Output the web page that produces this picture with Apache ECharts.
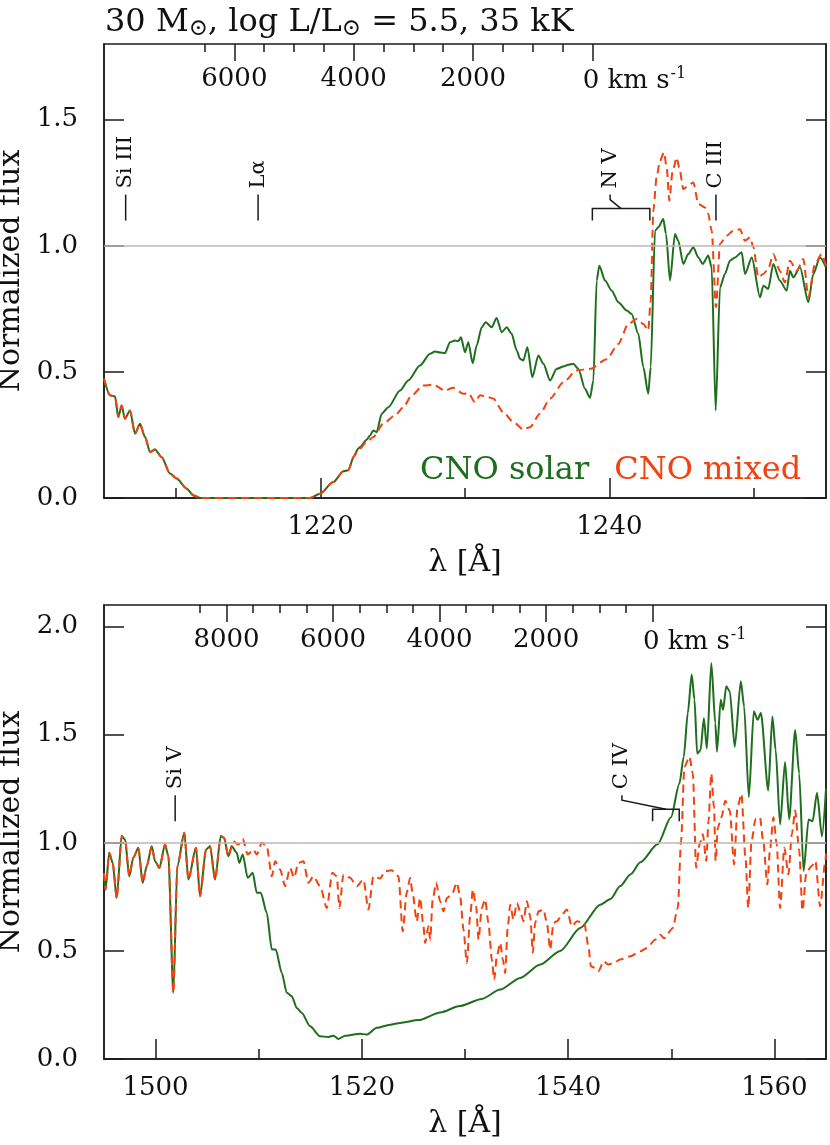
<!DOCTYPE html>
<html><head><meta charset="utf-8">
<script src="https://cdn.jsdelivr.net/npm/echarts@6/dist/echarts.min.js"></script>
<style>html,body{margin:0;padding:0;background:#fff}#c{width:830px;height:1145px}</style>
</head><body><div id="c"></div>
<script>
// ---------------- DATA ----------------
const topRange = [1205, 1255];
const botRange = [1495, 1565];
const topYMax = 1.8, botYMax = 2.1;
const topRest = 1238.82;   // N V rest wavelength (0 km/s)
const botRest = 1548.19;   // C IV rest wavelength (0 km/s)

const topWaveMajor = [1220, 1240];
const topWaveMinor = [1210, 1230, 1250];
const botWaveMajor = [1500, 1520, 1540, 1560];
const botWaveMinor = [1510, 1530, 1550];
const topFluxTicks = [0, 0.5, 1.0, 1.5];
const botFluxTicks = [0, 0.5, 1.0, 1.5, 2.0];
const topVelMajor = [0, 2000, 4000, 6000];
const topVelMinor = [0, 500, 1000, 1500, 2000, 2500, 3000, 3500, 4000, 4500, 5000, 5500, 6000, 6500];
const botVelMajor = [0, 2000, 4000, 6000, 8000];
const botVelMinor = [0, 500, 1000, 1500, 2000, 2500, 3000, 3500, 4000, 4500, 5000, 5500, 6000, 6500, 7000, 7500, 8000, 8500];

const seriesNames = ['CNO solar', 'CNO mixed'];

// top panel: common part (both models identical)
const topCommon = [[1205.0,0.473],[1205.42,0.407],[1205.76,0.403],[1205.99,0.321],[1206.22,0.367],[1206.45,0.314],[1206.8,0.347],[1207.15,0.255],[1207.49,0.294],[1207.84,0.242],[1208.19,0.182],[1208.53,0.192],[1209.0,0.162],[1209.57,0.097],[1210.03,0.077],[1210.73,0.037],[1211.2,0.01],[1211.65,0.0],[1215.5,0.0],[1219.27,0.0],[1219.96,0.017],[1220.88,0.063],[1221.58,0.106],[1221.92,0.11],[1222.3,0.165]];
const topSolar = [[1222.61,0.196],[1222.73,0.202],[1223.19,0.231],[1223.42,0.248],[1223.65,0.268],[1223.88,0.261],[1224.23,0.334],[1224.69,0.360],[1225.5,0.426],[1226.07,0.466],[1226.88,0.525],[1227.58,0.572],[1227.92,0.581],[1228.27,0.577],[1228.61,0.574],[1228.96,0.618],[1229.31,0.624],[1229.54,0.622],[1229.72,0.637],[1230.0,0.578],[1230.23,0.618],[1230.53,0.534],[1230.81,0.605],[1231.16,0.677],[1231.43,0.697],[1231.85,0.677],[1232.19,0.714],[1232.54,0.657],[1232.89,0.677],[1233.23,0.651],[1233.58,0.585],[1233.81,0.552],[1234.04,0.545],[1234.32,0.598],[1234.66,0.479],[1235.08,0.565],[1235.43,0.532],[1235.89,0.466],[1236.35,0.512],[1236.81,0.521],[1237.15,0.528],[1237.5,0.532],[1237.85,0.512],[1238.31,0.433],[1238.66,0.397],[1238.89,0.466],[1239.12,0.862],[1239.3,0.921],[1239.7,0.862],[1240.16,0.822],[1240.62,0.776],[1241.2,0.743],[1241.54,0.730],[1242.0,0.651],[1242.35,0.519],[1242.69,0.413],[1242.86,0.519],[1243.16,1.060],[1243.39,1.073],[1243.73,1.106],[1243.92,1.047],[1244.2,0.862],[1244.54,1.047],[1244.77,1.020],[1245.12,0.928],[1245.46,0.967],[1245.81,0.994],[1246.16,0.954],[1246.46,0.928],[1246.85,0.961],[1247.08,0.915],[1247.36,0.347],[1247.66,0.835],[1248.0,0.888],[1248.35,0.941],[1248.7,0.954],[1249.16,0.974],[1249.39,0.888],[1249.86,0.954],[1250.43,0.796],[1250.66,0.842],[1251.0,0.829],[1251.35,0.928],[1251.8,0.862],[1252.28,0.822],[1252.5,0.901],[1252.74,0.875],[1253.2,0.915],[1253.78,0.776],[1254.12,0.888],[1254.58,0.954],[1255.0,0.915]];
const topMixed = [[1222.61,0.19],[1223.19,0.222],[1223.65,0.242],[1224.34,0.295],[1225.15,0.327],[1225.73,0.360],[1226.31,0.407],[1227.11,0.446],[1227.81,0.449],[1228.61,0.426],[1229.19,0.437],[1229.89,0.413],[1230.23,0.416],[1230.69,0.380],[1231.04,0.407],[1231.61,0.400],[1231.96,0.394],[1232.65,0.340],[1233.35,0.301],[1234.04,0.272],[1234.5,0.281],[1235.19,0.334],[1235.89,0.394],[1236.81,0.459],[1237.74,0.506],[1238.66,0.512],[1239.81,0.55],[1240.62,0.611],[1241.31,0.690],[1241.89,0.710],[1242.35,0.690],[1242.69,0.664],[1242.86,0.783],[1243.04,1.139],[1243.27,1.271],[1243.5,1.337],[1243.78,1.370],[1243.97,1.310],[1244.15,1.179],[1244.38,1.297],[1244.66,1.350],[1244.84,1.310],[1245.12,1.225],[1245.46,1.238],[1245.81,1.251],[1246.16,1.166],[1246.62,1.152],[1246.85,1.126],[1247.08,1.060],[1247.38,0.756],[1247.66,1.007],[1248.12,1.040],[1248.58,1.060],[1249.04,1.066],[1249.39,1.020],[1249.74,1.033],[1249.97,0.994],[1250.31,0.875],[1250.66,0.888],[1251.0,0.908],[1251.35,0.967],[1251.8,0.901],[1252.15,0.855],[1252.5,0.941],[1252.97,0.901],[1253.43,0.948],[1253.78,0.796],[1254.24,0.928],[1254.7,0.967],[1255.0,0.921]];

// bottom panel: common part
const botCommon = [[1495.0,0.86],[1495.15,0.784],[1495.51,0.954],[1495.84,0.907],[1496.23,0.745],[1496.72,1.031],[1497.04,1.015],[1497.45,0.845],[1497.84,0.931],[1498.33,0.977],[1498.75,0.815],[1499.14,0.892],[1499.63,0.984],[1499.95,0.915],[1500.37,0.884],[1500.92,0.992],[1501.24,0.938],[1501.72,0.306],[1502.11,0.892],[1502.79,1.046],[1503.18,0.830],[1503.92,0.977],[1504.31,0.753],[1504.89,0.969],[1505.28,0.984],[1505.77,0.830],[1506.32,1.031],[1506.64,1.023],[1507.06,0.938]];
const botSolar = [[1507.38,0.984],[1507.87,0.954],[1508.12,0.907],[1508.45,0.946],[1508.93,0.838],[1509.42,0.861],[1509.81,0.769],[1510.2,0.769],[1510.78,0.676],[1511.27,0.506],[1511.65,0.506],[1512.24,0.398],[1512.72,0.306],[1513.21,0.290],[1513.69,0.236],[1514.18,0.213],[1514.98,0.151],[1515.95,0.105],[1516.76,0.102],[1517.24,0.108],[1517.73,0.093],[1518.38,0.108],[1519.83,0.117],[1520.48,0.113],[1521.45,0.144],[1522.74,0.159],[1523.71,0.167],[1525.5,0.18],[1527.6,0.215],[1529.5,0.245],[1531.63,0.278],[1533.41,0.321],[1535.35,0.375],[1537.29,0.437],[1539.23,0.50],[1541.17,0.606],[1543.11,0.714],[1544.11,0.74],[1545.05,0.80],[1546.07,0.855],[1547.0,0.91],[1548.67,0.993],[1549.97,1.118],[1550.78,1.273],[1551.21,1.398],[1551.6,1.6],[1551.98,1.778],[1552.25,1.662],[1552.51,1.413],[1552.84,1.429],[1553.16,1.576],[1553.45,1.436],[1553.88,1.832],[1554.27,1.553],[1554.43,1.421],[1554.79,1.662],[1555.02,1.615],[1555.33,1.724],[1555.67,1.700],[1556.15,1.444],[1556.74,1.747],[1557.06,1.631],[1557.52,1.211],[1558.0,1.608],[1558.37,1.569],[1558.69,1.6],[1559.4,1.242],[1559.8,1.584],[1560.12,1.429],[1560.55,1.085],[1561.03,1.374],[1561.43,1.108],[1562.01,1.522],[1562.4,1.320],[1562.83,0.869],[1563.31,1.108],[1563.7,1.100],[1564.13,1.231],[1564.61,1.029],[1565.0,1.25]];
const botMixed = [[1507.54,1.007],[1508.03,0.992],[1508.45,1.019],[1508.93,0.946],[1509.48,0.969],[1509.81,0.946],[1510.3,1.0],[1510.78,0.984],[1511.27,0.845],[1511.59,0.915],[1512.08,0.876],[1512.56,0.799],[1513.05,0.884],[1513.43,0.838],[1513.85,0.907],[1514.33,0.915],[1514.82,0.815],[1515.31,0.845],[1515.95,0.799],[1516.6,0.699],[1517.14,0.861],[1517.57,0.845],[1517.82,0.699],[1518.21,0.853],[1518.86,0.838],[1519.51,0.799],[1520.15,0.830],[1520.64,0.691],[1521.12,0.845],[1521.77,0.835],[1522.26,0.869],[1522.9,0.873],[1523.55,0.845],[1523.96,0.591],[1524.35,0.769],[1524.68,0.838],[1524.94,0.761],[1525.32,0.637],[1525.65,0.745],[1525.97,0.614],[1526.13,0.537],[1526.46,0.614],[1526.62,0.552],[1526.87,0.738],[1527.2,0.815],[1527.59,0.730],[1527.91,0.683],[1528.24,0.745],[1528.72,0.761],[1529.21,0.815],[1529.53,0.753],[1529.85,0.599],[1530.18,0.444],[1530.5,0.660],[1530.76,0.784],[1531.08,0.707],[1531.31,0.552],[1531.63,0.699],[1531.95,0.738],[1532.27,0.630],[1532.6,0.460],[1532.83,0.367],[1533.09,0.475],[1533.41,0.537],[1533.67,0.460],[1533.89,0.398],[1534.15,0.614],[1534.38,0.714],[1534.7,0.645],[1535.03,0.722],[1535.35,0.683],[1535.67,0.637],[1536.0,0.730],[1536.32,0.660],[1536.58,0.491],[1536.8,0.630],[1537.13,0.683],[1537.61,0.691],[1537.94,0.630],[1538.26,0.506],[1538.58,0.630],[1538.91,0.637],[1539.39,0.668],[1539.88,0.691],[1540.36,0.614],[1540.85,0.637],[1541.56,0.630],[1541.97,0.521],[1542.2,0.429],[1542.62,0.421],[1542.95,0.406],[1543.43,0.452],[1543.91,0.437],[1544.4,0.444],[1545.05,0.460],[1546.02,0.475],[1546.99,0.498],[1547.64,0.514],[1548.44,0.552],[1548.93,0.575],[1549.32,0.558],[1550.13,0.605],[1550.63,0.698],[1550.95,1.009],[1551.27,1.351],[1551.76,1.398],[1552.09,1.320],[1552.41,0.885],[1552.74,0.993],[1553.06,1.040],[1553.39,0.916],[1553.61,1.102],[1553.88,1.320],[1554.14,1.164],[1554.3,0.916],[1554.52,1.071],[1554.86,1.118],[1555.24,1.195],[1555.67,1.149],[1556.09,0.900],[1556.42,1.164],[1556.8,1.226],[1557.19,0.931],[1557.46,0.698],[1557.78,1.009],[1558.17,1.110],[1558.6,1.118],[1558.91,1.009],[1559.31,0.807],[1559.56,0.963],[1559.9,1.118],[1560.22,0.993],[1560.55,0.698],[1560.96,0.978],[1561.36,0.854],[1561.69,1.040],[1562.01,1.149],[1562.4,0.963],[1562.72,0.686],[1563.1,0.864],[1563.62,0.893],[1563.97,0.916],[1564.43,0.706],[1564.94,0.916],[1565.0,0.95]];

// line identifications
const topIonNames = ['Si III', 'Lα', 'N V', 'C III'];
const topIonLam1 = [1206.5, 1215.67, 1238.82, 1247.38];
const topIonLam2 = [1206.5, 1215.67, 1242.80, 1247.38];
const botIonNames = ['Si V', 'C IV'];
const botIonLam1 = [1501.9, 1548.19];
const botIonLam2 = [1501.9, 1550.77];
const ionBaseFlux = 1.10;

// ---------------- STYLE ----------------
const FONT = "'DejaVu Serif', 'DejaVu Sans', serif";
const FRAME = '#1a1a1a';
const GREEN = '#1e6e1e';
const RED = '#f2420f';
const TXT = '#111';
const topIonShift = [0, 0, -11, 0];
const botIonShift = [0, -44];

const C_KMS = 299792.458;
const vel = (lam, rest) => C_KMS * (rest - lam) / rest;

function xAxes(gi, range, rest, waveMajor, waveMinor, velMajor, velMinor) {
  const tickStyle = {color: FRAME, width: 1.5};
  return [
    {gridIndex: gi, type: 'value', min: range[0], max: range[1], position: 'bottom',
     axisLine: {show: true, onZero: false, lineStyle: tickStyle},
     axisTick: {show: true, inside: true, length: 20, customValues: waveMajor, lineStyle: tickStyle},
     axisLabel: {show: true, customValues: waveMajor, margin: 16, fontSize: 26, fontFamily: FONT, color: TXT, formatter: v => String(v)},
     splitLine: {show: false},
     name: 'λ [Å]', nameLocation: 'middle', nameGap: 50,
     nameTextStyle: {fontSize: 30, fontFamily: FONT, color: TXT}},
    {gridIndex: gi, type: 'value', min: range[0], max: range[1], position: 'bottom',
     axisLine: {show: false, onZero: false},
     axisTick: {show: true, inside: true, length: 10, customValues: waveMinor, lineStyle: tickStyle},
     axisLabel: {show: false}, splitLine: {show: false}},
    {gridIndex: gi, type: 'value', inverse: true, min: vel(range[1], rest), max: vel(range[0], rest), position: 'top',
     axisLine: {show: false, onZero: false},
     axisTick: {show: true, inside: true, length: 17, customValues: velMajor, lineStyle: tickStyle},
     axisLabel: {show: true, inside: true, margin: 22, customValues: velMajor, fontSize: 26, fontFamily: FONT, color: TXT,
       formatter: v => v === 0 ? '{pad| }0 km s{sup|-1}' : String(v),
       rich: {pad: {width: 84, fontSize: 26}, sup: {fontSize: 16, fontFamily: FONT, verticalAlign: 'top', padding: [0, 0, 14, 1]}}},
     splitLine: {show: false}},
    {gridIndex: gi, type: 'value', inverse: true, min: vel(range[1], rest), max: vel(range[0], rest), position: 'top',
     axisLine: {show: false, onZero: false},
     axisTick: {show: true, inside: true, length: 8, customValues: velMinor, lineStyle: tickStyle},
     axisLabel: {show: false}, splitLine: {show: false}}
  ];
}
function yAxes(gi, ymax, ticks) {
  const tickStyle = {color: FRAME, width: 1.5};
  return [
    {gridIndex: gi, type: 'value', min: 0, max: ymax, position: 'left',
     axisLine: {show: true, onZero: false, lineStyle: tickStyle},
     axisTick: {show: true, inside: true, length: 20, customValues: ticks, lineStyle: tickStyle},
     axisLabel: {show: true, customValues: ticks, margin: 26, fontSize: 26, fontFamily: FONT, color: TXT, formatter: v => v.toFixed(1)},
     splitLine: {show: false},
     name: 'Normalized flux', nameLocation: 'middle', nameGap: 66, nameRotate: 90,
     nameTextStyle: {fontSize: 30, fontFamily: FONT, color: TXT}},
    {gridIndex: gi, type: 'value', min: 0, max: ymax, position: 'right',
     axisLine: {show: true, onZero: false, lineStyle: tickStyle},
     axisTick: {show: true, inside: true, length: 20, customValues: ticks, lineStyle: tickStyle},
     axisLabel: {show: false}, splitLine: {show: false}}
  ];
}

function ionSeries(gi, names, lam1, lam2, shifts) {
  const data = names.map((n, i) => [lam1[i], lam2[i], ionBaseFlux, i]);
  return {
    type: 'custom', xAxisIndex: gi * 4, yAxisIndex: gi * 2, clip: false, silent: true, z: 5,
    encode: {x: [0, 1], y: 2},
    data: data,
    renderItem: function (params, api) {
      const i = api.value(3);
      const p1 = api.coord([api.value(0), api.value(2)]);
      const p2 = api.coord([api.value(1), api.value(2)]);
      const ls = {stroke: FRAME, lineWidth: 1.5, fill: null};
      const children = [];
      let tx, ty;
      if (Math.abs(p2[0] - p1[0]) < 0.5) {
        children.push({type: 'line', shape: {x1: p1[0], y1: p1[1], x2: p1[0], y2: p1[1] - 26}, style: ls});
        tx = p1[0]; ty = p1[1] - 32;
      } else {
        const top = p1[1] - 12;
        children.push({type: 'polyline', shape: {points: [[p1[0], p1[1]], [p1[0], top], [p2[0], top], [p2[0], p2[1]]]}, style: ls});
        const mx = (p1[0] + p2[0]) / 2;
        tx = mx + shifts[i];
        children.push({type: 'polyline', shape: {points: [[mx, top], [tx, top - 9], [tx, top - 14]]}, style: ls});
        ty = top - 20;
      }
      children.push({type: 'text', x: tx, y: ty, rotation: Math.PI / 2,
        style: {text: names[i], align: 'left', verticalAlign: 'middle', fontSize: 21, fontFamily: FONT, fill: TXT}});
      return {type: 'group', children: children};
    }
  };
}

function refLine(gi) {
  return {type: 'line', xAxisIndex: gi * 4, yAxisIndex: gi * 2, data: [], silent: true, z: 1,
    markLine: {silent: true, symbol: ['none', 'none'], label: {show: false}, animation: false,
      lineStyle: {color: '#b9b9b9', width: 1.5, type: 'solid'}, data: [{yAxis: 1.0}]}};
}
function spec(gi, name, data, color, dashed) {
  return {type: 'line', name: name, xAxisIndex: gi * 4, yAxisIndex: gi * 2, data: data,
    showSymbol: false, smooth: 0.25, smoothMonotone: 'x', z: dashed ? 3 : 2, silent: true,
    lineStyle: {color: color, width: 2, type: dashed ? [8, 5] : 'solid'}, itemStyle: {color: color}};
}

const chart = echarts.init(document.getElementById('c'), null, {renderer: 'canvas'});
chart.setOption({
  animation: false,
  backgroundColor: '#fff',
  title: {text: '30 M{s|⊙}, log L/L{s|⊙} = 5.5, 35 kK', left: 100, top: 0,
    textStyle: {fontSize: 32, fontFamily: FONT, color: TXT, fontWeight: 'normal', lineHeight: 36,
      rich: {s: {fontSize: 23, fontFamily: FONT, color: TXT, verticalAlign: 'bottom', lineHeight: 24}}}},
  legend: {data: [{name: 'CNO solar', textStyle: {color: GREEN}}, {name: 'CNO mixed', textStyle: {color: RED}}],
    icon: 'none', itemWidth: 0, itemHeight: 0, left: 410, top: 450, itemGap: 20, selectedMode: false,
    textStyle: {fontSize: 32, fontFamily: FONT}},
  grid: [
    {left: 104, top: 44, width: 722, height: 454, show: true, borderColor: FRAME, borderWidth: 1.5, backgroundColor: 'transparent', containLabel: false, outerBoundsMode: 'none'},
    {left: 104, top: 605, width: 722, height: 454, show: true, borderColor: FRAME, borderWidth: 1.5, backgroundColor: 'transparent', containLabel: false, outerBoundsMode: 'none'}
  ],
  xAxis: [].concat(
    xAxes(0, topRange, topRest, topWaveMajor, topWaveMinor, topVelMajor, topVelMinor),
    xAxes(1, botRange, botRest, botWaveMajor, botWaveMinor, botVelMajor, botVelMinor)),
  yAxis: [].concat(yAxes(0, topYMax, topFluxTicks), yAxes(1, botYMax, botFluxTicks)),
  series: [
    refLine(0), refLine(1),
    spec(0, seriesNames[0], topCommon.concat(topSolar), GREEN, false),
    spec(0, seriesNames[1], topCommon.concat(topMixed), RED, true),
    spec(1, seriesNames[0], botCommon.concat(botSolar), GREEN, false),
    spec(1, seriesNames[1], botCommon.concat(botMixed), RED, true),
    ionSeries(0, topIonNames, topIonLam1, topIonLam2, topIonShift),
    ionSeries(1, botIonNames, botIonLam1, botIonLam2, botIonShift)
  ]
});
</script></body></html>
